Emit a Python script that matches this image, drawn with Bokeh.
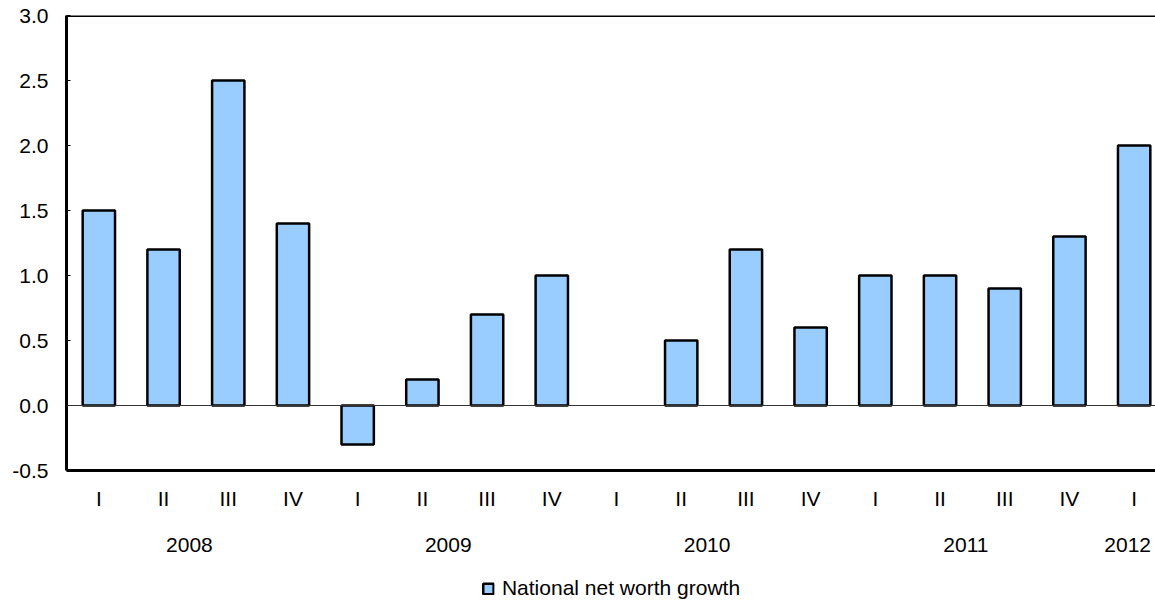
import numpy as np
from bokeh.plotting import figure
from bokeh.layouts import column
from bokeh.models import (FixedTicker, LinearAxis, Range1d, Span, Legend,
                          LegendItem, ColumnDataSource, NumeralTickFormatter)
from bokeh.embed import file_html
from bokeh.resources import INLINE

quarters = ["I", "II", "III", "IV", "I", "II", "III", "IV", "I", "II", "III", "IV",
            "I", "II", "III", "IV", "I"]
years = ["2008", "2009", "2010", "2011", "2012"]
quarters_per_year = [4, 4, 4, 4, 1]
growth = [1.5, 1.2, 2.5, 1.4, -0.3, 0.2, 0.7, 1.0, 0.0, 0.5, 1.2, 0.6,
          1.0, 1.0, 0.9, 1.3, 2.0]
y_ticks = [-0.5, 0.0, 0.5, 1.0, 1.5, 2.0, 2.5, 3.0]
series_name = "National net worth growth"

FONT = "Liberation Sans"
FS = "21px"
BAR_FILL = "#99CCFF"

x = list(range(1, len(growth) + 1))
source = ColumnDataSource(dict(
    x=x, top=growth,
    line=["black" if v != 0 else None for v in growth],
    fill=[BAR_FILL if v != 0 else None for v in growth],
))

year_pos = []
start = 1
for n in quarters_per_year:
    year_pos.append(start + (n - 1) / 2 - 0.1)
    start += n

p = figure(frame_width=1089, frame_height=455, output_backend="svg",
           toolbar_location=None,
           x_range=Range1d(0.5, 17.33), y_range=Range1d(-0.5, 3.0),
           min_border_left=66, min_border_top=15, min_border_right=0,
           min_border_bottom=106)
p.outline_line_color = None
p.grid.visible = False
p.background_fill_color = "white"
p.border_fill_color = "white"

r = p.vbar(x="x", top="top", bottom=0, width=0.5, source=source,
           fill_color="fill", line_color="line", line_width=2.5)

p.add_layout(Span(location=0, dimension="width", line_color="#333333", line_width=1))
p.add_layout(Span(location=3.0, dimension="width", line_color="black", line_width=3))

# y axis
ya = p.yaxis[0]
ya.ticker = FixedTicker(ticks=y_ticks)
ya.formatter = NumeralTickFormatter(format="0.0")
ya.axis_line_width = 3
ya.major_tick_in = 4
ya.major_tick_out = 0
ya.minor_tick_line_color = None
ya.major_label_standoff = 18
ya.major_label_text_font = FONT
ya.major_label_text_font_size = FS
ya.major_label_text_color = "black"

# quarter axis
xa = p.xaxis[0]
xa.ticker = FixedTicker(ticks=x)
xa.major_label_overrides = {i: q for i, q in zip(x, quarters)}
xa.axis_line_width = 3
xa.major_tick_line_color = None
xa.minor_tick_line_color = None
xa.major_tick_out = 0
xa.major_tick_in = 0
xa.major_label_standoff = 16
xa.major_label_text_font = FONT
xa.major_label_text_font_size = FS
xa.major_label_text_color = "black"

# year axis
ya2 = LinearAxis(ticker=FixedTicker(ticks=year_pos),
                 major_label_overrides={pos: y for pos, y in zip(year_pos, years)})
ya2.axis_line_color = None
ya2.major_tick_line_color = None
ya2.minor_tick_line_color = None
ya2.major_tick_out = 0
ya2.major_tick_in = 0
ya2.major_label_standoff = 25
ya2.major_label_text_font = FONT
ya2.major_label_text_font_size = FS
ya2.major_label_text_color = "black"
p.add_layout(ya2, "below")

# legend strip (swatch renderer has one undrawable NaN row)
lf = figure(width=1155, height=24, output_backend="svg", toolbar_location=None,
            x_range=Range1d(0, 1), y_range=Range1d(0, 1),
            min_border=0, x_axis_type=None, y_axis_type=None)
lf.outline_line_color = None
lf.grid.visible = False
swatch = ColumnDataSource(dict(x=np.array([np.nan]), top=np.array([np.nan]),
                               bottom=np.array([np.nan])))
lr = lf.vbar(x="x", top="top", bottom="bottom", width=0.1, source=swatch,
             fill_color=BAR_FILL, line_color="black", line_width=2.5)
legend = Legend(items=[LegendItem(label=series_name, renderers=[lr])],
                orientation="horizontal", location="center",
                margin=0, padding=0, border_line_color=None,
                background_fill_alpha=0,
                label_text_font=FONT, label_text_font_size=FS,
                label_text_color="black",
                glyph_width=13, glyph_height=13, label_standoff=8)
lf.add_layout(legend, "center")

layout = column(p, lf, spacing=0)
open("out.html", "w").write(file_html(layout, INLINE))
